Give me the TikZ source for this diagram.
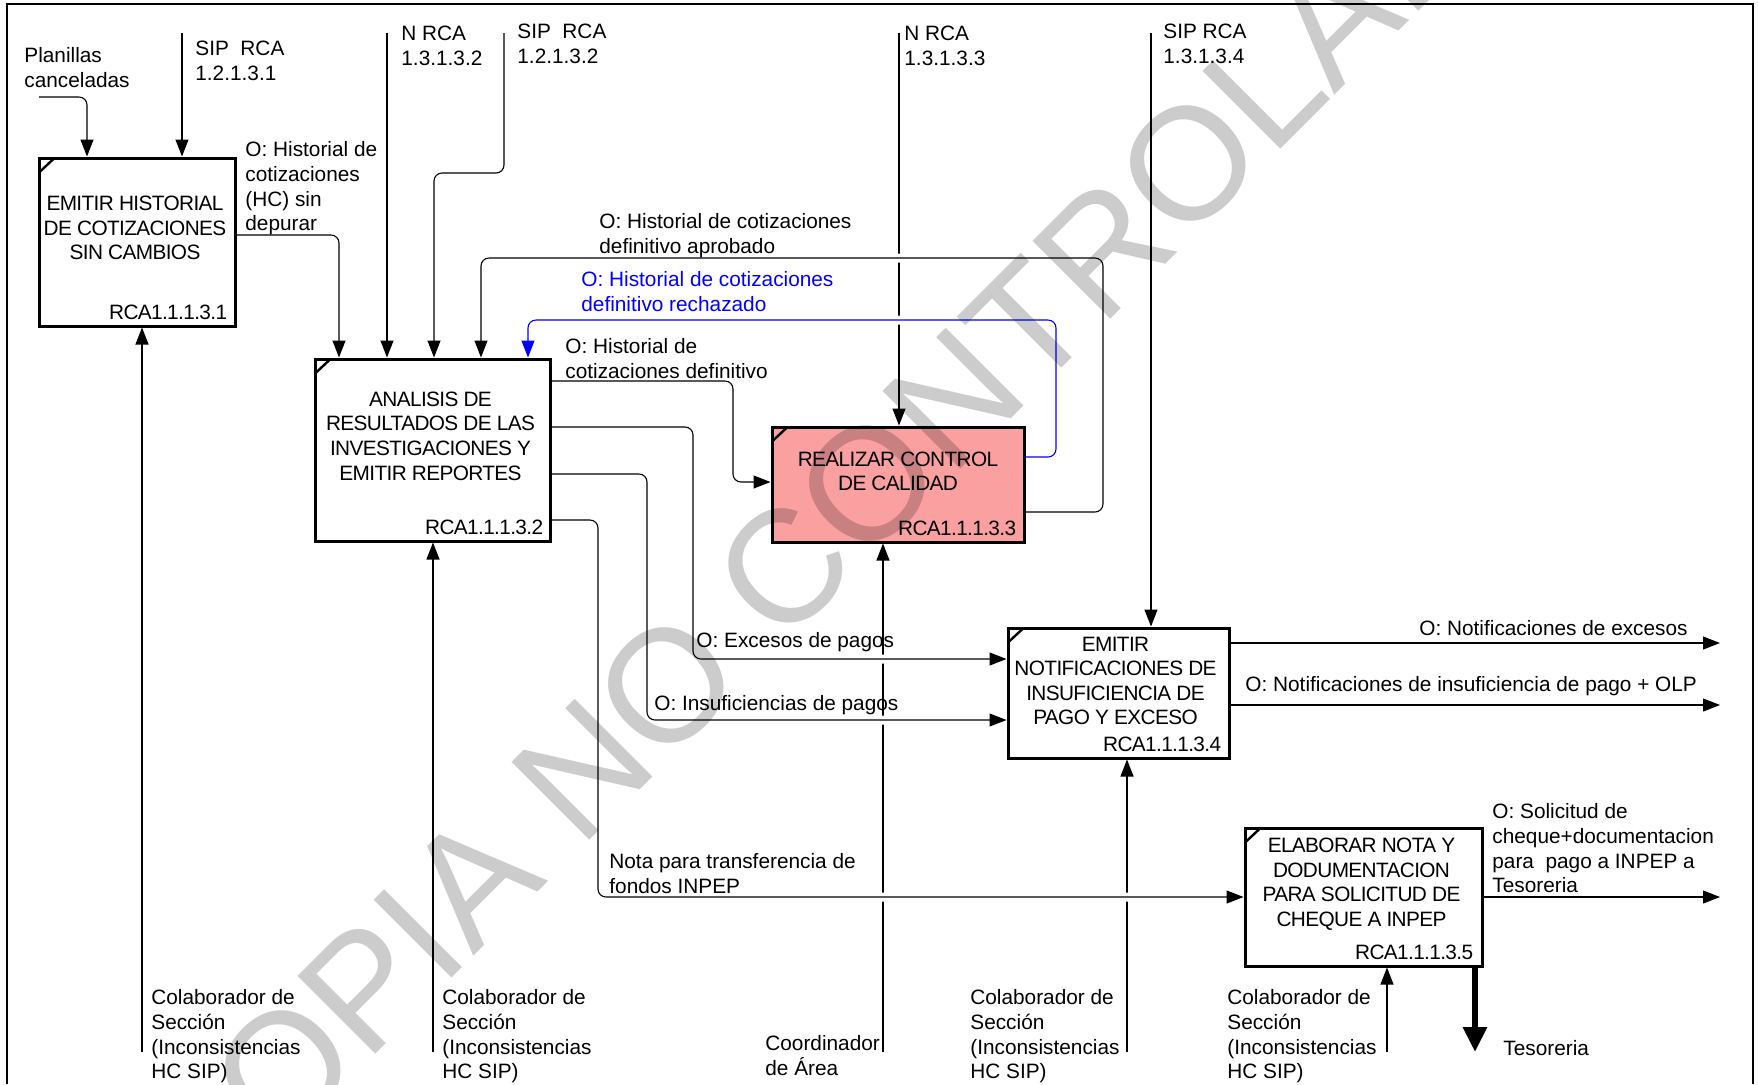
\documentclass[tikz,border=0pt]{standalone}
\usepackage{fontspec}
\setmainfont{Liberation Sans}
\newfontfamily\boxfam[LetterSpace=-3]{Liberation Sans}
\usetikzlibrary{arrows.meta,calc}
\definecolor{pinkbox}{RGB}{250,160,160}
\pgfdeclarelayer{bg}
\pgfdeclarelayer{wmlayer}
\pgfsetlayers{bg,main,wmlayer}
\newcommand\lblfont{\fontsize{10.4pt}{12.4pt}\selectfont}
\newcommand\boxtxtfont{\boxfam\fontsize{10.4pt}{12.3pt}\selectfont}
\tikzset{
  proc/.style={draw, line width=1.5pt, fill=white, inner sep=0pt, rectangle},
  conn/.style={line width=0.55pt, rounded corners=4pt, -{Triangle[length=8.5pt,width=6.5pt]}},
  halo/.style={preaction={draw=white, line width=4.5pt, -}},
  lbl/.style={anchor=north west, inner sep=0pt, align=left, font=\lblfont},
  boxtxt/.style={inner sep=0pt, align=center, font=\boxtxtfont},
  rcalbl/.style={anchor=base east, inner sep=0pt, font=\boxtxtfont},
  tickline/.style={line width=1.2pt},
}
\begin{document}
\begin{tikzpicture}[x=0.5pt,y=-0.5pt]
\useasboundingbox (0,0) rectangle (1758,1084);
% ---------- boxes ----------
\node[proc, minimum width=98pt, minimum height=84pt] (b1) at (137,242) {};
\node[proc, minimum width=117.5pt, minimum height=91pt] (b2) at (432.5,450) {};
\node[proc, minimum width=126pt, minimum height=57.5pt, fill=pinkbox] (b3) at (898,484.5) {};
\node[proc, minimum width=110.5pt, minimum height=65pt] (b4) at (1118.5,693) {};
\node[proc, minimum width=118.5pt, minimum height=69pt] (b5) at (1363.5,897) {};
\foreach \b in {b1,b2,b3,b4,b5}
  \draw[tickline] ($(\b.north west)+(1.5,16)$) -- ($(\b.north west)+(17,1.5)$);
% box texts
\node[boxtxt] (t1) at ($(b1.center)+(-2,-14)$) {EMITIR HISTORIAL\\DE COTIZACIONES\\SIN CAMBIOS};
\node[boxtxt] (t2) at ($(b2.center)+(-2,-14)$) {ANALISIS DE\\RESULTADOS DE LAS\\INVESTIGACIONES Y\\EMITIR REPORTES};
\node[boxtxt] (t3) at ($(b3.center)+(0,-13)$) {REALIZAR CONTROL\\DE CALIDAD};
\node[boxtxt] (t4) at ($(b4.center)+(-3,-12)$) {EMITIR\\NOTIFICACIONES DE\\INSUFICIENCIA DE\\PAGO Y EXCESO};
\node[boxtxt] (t5) at ($(b5.center)+(-2,-13)$) {ELABORAR NOTA Y\\DODUMENTACION\\PARA SOLICITUD DE\\CHEQUE A INPEP};
\node[rcalbl] (r1) at ($(b1.south east)+(-9,-8)$) {RCA1.1.1.3.1};
\node[rcalbl] (r2) at ($(b2.south east)+(-8,-8)$) {RCA1.1.1.3.2};
\node[rcalbl] (r3) at ($(b3.south east)+(-9,-8)$) {RCA1.1.1.3.3};
\node[rcalbl] (r4) at ($(b4.south east)+(-9,-8)$) {RCA1.1.1.3.4};
\node[rcalbl] (r5) at ($(b5.south east)+(-10,-8)$) {RCA1.1.1.3.5};
% ---------- labels ----------
\node[lbl] (lplan) at (24,47) {Planillas\\canceladas};
\node[lbl] (lsip1) at (195,41) {SIP\ \ RCA\\1.2.1.3.1};
\node[lbl] (lhc) at (245,141) {O: Historial de\\cotizaciones\\(HC) sin\\depurar};
\node[lbl] (ln1) at (401,26) {N RCA\\1.3.1.3.2};
\node[lbl] (lsip2) at (517,24) {SIP\ \ RCA\\1.2.1.3.2};
\node[lbl] (lapr) at (599,213) {O: Historial de cotizaciones\\definitivo aprobado};
\node[lbl, text=blue] (lrech) at (581,271) {O: Historial de cotizaciones\\definitivo rechazado};
\node[lbl] (ldef) at (565,338) {O: Historial de\\cotizaciones definitivo};
\node[lbl] (ln2) at (904,26) {N RCA\\1.3.1.3.3};
\node[lbl] (lsip4) at (1163,24) {SIP RCA\\1.3.1.3.4};
\node[lbl] (lexc) at (696,632) {O: Excesos de pagos};
\node[lbl] (lins) at (654,695) {O: Insuficiencias de pagos};
\node[lbl] (lnota) at (609,853) {Nota para transferencia de\\fondos INPEP};
\node[lbl, anchor=north east] (lnexc) at (1688,620) {O: Notificaciones de excesos};
\node[lbl] (lnins) at (1245,676) {O: Notificaciones de insuficiencia de pago + OLP};
\node[lbl] (lsol) at (1492,803) {O: Solicitud de\\cheque+documentacion\\para\ \ pago a INPEP a\\Tesoreria};
\node[lbl] (ltes) at (1503,1040) {Tesoreria};
\node[lbl] (lc1) at (151,989) {Colaborador de\\Sección\\(Inconsistencias\\HC SIP)};
\node[lbl] (lc2) at (442,989) {Colaborador de\\Sección\\(Inconsistencias\\HC SIP)};
\node[lbl] (lco) at (765,1035) {Coordinador\\de Área};
\node[lbl] (lc4) at (970,989) {Colaborador de\\Sección\\(Inconsistencias\\HC SIP)};
\node[lbl] (lc5) at (1227,989) {Colaborador de\\Sección\\(Inconsistencias\\HC SIP)};
% ---------- connectors ----------
\begin{pgfonlayer}{bg}
\fill[white] (0,0) rectangle (1758,1084);
\draw[line width=0.9pt] (7,1084) -- (7,4) -- (1753,4) -- (1753,1084);
% lines that get crossing gaps
\coordinate (n2) at (899,33);
\draw[conn] (n2) -- (n2 |- b3.north);
\coordinate (m3) at (883,1052);
\draw[conn] (m3) -- (m3 |- b3.south);
\coordinate (m4) at (1127,1052);
\draw[conn] (m4) -- (m4 |- b4.south);
% controls / inputs
\coordinate (pl) at (39,97);
\draw[conn] (pl) -| (87,0 |- b1.north);
\coordinate (s1) at (182,33);
\draw[conn] (s1) -- (s1 |- b1.north);
\draw[conn] (b1.east |- 0,235) -| (339,0 |- b2.north);
\coordinate (n1) at (387,33);
\draw[conn] (n1) -- (n1 |- b2.north);
\coordinate (s2) at (504,33);
\draw[conn] (s2) |- (434,173) -- (434,0 |- b2.north);
\draw[conn, halo] (b3.east |- 0,512) -| (1103,258) -| (481,0 |- b2.north);
\draw[conn, halo, blue] (b3.east |- 0,457) -| (1056,320) -| (528,0 |- b2.north);
\draw[conn] (b2.east |- 0,381) -| (733,482) -- (b3.west |- 0,482);
\draw[conn, halo] (b2.east |- 0,427) -| (693,659) -- (b4.west |- 0,659);
\draw[conn, halo] (b2.east |- 0,474) -| (647,720) -- (b4.west |- 0,720);
\draw[conn, halo] (b2.east |- 0,520) -| (598,897) -- (b5.west |- 0,897);
\coordinate (s4) at (1151,33);
\draw[conn] (s4) -- (s4 |- b4.north);
% mechanisms
\coordinate (m1) at (142,1052);
\draw[conn] (m1) -- (m1 |- b1.south);
\coordinate (m2) at (433,1052);
\draw[conn] (m2) -- (m2 |- b2.south);
\coordinate (m5) at (1387,1052);
\draw[conn] (m5) -- (m5 |- b5.south);
% outputs
\coordinate (o1) at (1720,643);
\draw[conn] (b4.east |- o1) -- (o1);
\coordinate (o2) at (1720,705);
\draw[conn] (b4.east |- o2) -- (o2);
\coordinate (o3) at (1720,897);
\draw[conn] (b5.east |- o3) -- (o3);
\coordinate (tes) at (1475,1052);
\draw[line width=3pt, -{Triangle[length=12.5pt,width=11.5pt]}] (tes |- b5.south) -- (tes);
\end{pgfonlayer}
% ---------- watermark ----------
\begin{pgfonlayer}{wmlayer}
\node[rotate=45, inner sep=0pt, text=black, text opacity=0.2, font=\fontsize{80pt}{80pt}\selectfont] (wm) at (843,509) {COPIA NO CONTROLADA};
\end{pgfonlayer}
\end{tikzpicture}
\end{document}
